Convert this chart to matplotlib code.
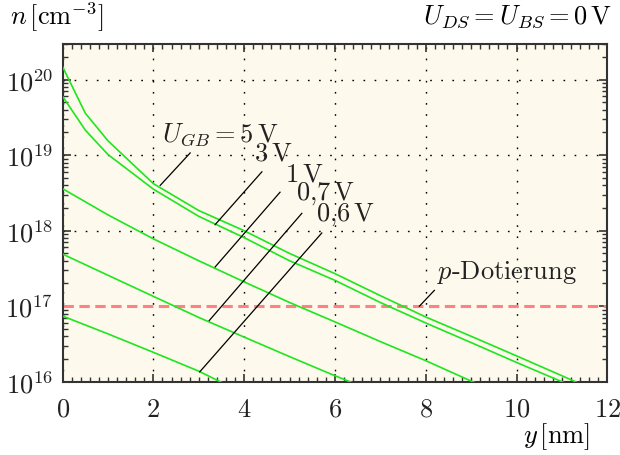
import numpy as np
import matplotlib.pyplot as plt
from matplotlib.ticker import LogLocator, MultipleLocator, FuncFormatter, NullFormatter

plt.rcParams['mathtext.fontset'] = 'cm'
plt.rcParams['axes.formatter.use_mathtext'] = True

# Elektronendichte n(y) für verschiedene Gate-Spannungen
y_5V = [0, 0.5, 1, 2, 3, 4, 5, 6, 7, 8, 9, 10, 11, 11.6]
n_5V = [1.48e20, 3.6e19, 1.55e19, 4.2e18, 1.85e18, 1.0e18, 5.0e17, 2.7e17,
        1.38e17, 7.2e16, 4.0e16, 2.2e16, 1.2e16, 8.3e15]

y_3V = [0, 0.5, 1, 2, 3, 4, 5, 6, 7, 8, 9, 10, 11, 11.5]
n_3V = [6.0e19, 2.15e19, 1.02e19, 3.55e18, 1.55e18, 8.1e17, 4.0e17, 2.2e17,
        1.12e17, 6.0e16, 3.3e16, 1.8e16, 1.0e16, 7.4e15]

y_1V = [0, 1, 2, 3, 4, 5, 6, 7, 8, 9, 9.5]
n_1V = [3.6e18, 1.62e18, 7.8e17, 4.0e17, 2.1e17, 1.12e17, 6.2e16, 3.4e16,
        1.9e16, 1.02e16, 7.6e15]

y_07V = [0, 1, 2, 3, 4, 5, 6, 6.5]
n_07V = [4.9e17, 2.57e17, 1.35e17, 7.1e16, 3.9e16, 2.15e16, 1.2e16, 9.1e15]

y_06V = [0, 1, 2, 3, 3.5, 3.8]
n_06V = [7.4e16, 4.3e16, 2.45e16, 1.38e16, 9.8e15, 8.1e15]

N_A = 1e17  # p-Dotierung

curves = [(y_5V, n_5V), (y_3V, n_3V), (y_1V, n_1V), (y_07V, n_07V), (y_06V, n_06V)]

# Beschriftungen: Text, Textposition, Hinweislinie (von, bis)
labels = [
    (r'$U_{GB} = 5\,\mathrm{V}$', (3.47, 10**19.29), (2.15, 10**18.60), (2.81, 10**19.03)),
    (r'$3\,\mathrm{V}$', (4.64, 10**19.03), (3.36, 10**18.08), (4.39, 10**18.78)),
    (r'$1\,\mathrm{V}$', (5.32, 10**18.76), (3.36, 10**17.52), (4.79, 10**18.51)),
    (r'$0{,}7\,\mathrm{V}$', (5.78, 10**18.50), (3.23, 10**16.81), (5.27, 10**18.23)),
    (r'$0{,}6\,\mathrm{V}$', (6.22, 10**18.23), (3.02, 10**16.13), (5.71, 10**17.97)),
]

fig = plt.figure(figsize=(6.2, 4.56), dpi=100)
ax = fig.add_axes([0.101, 0.1607, 0.8785, 0.7413])
ax.set_facecolor('#fdf9ec')

for y, n in curves:
    ax.plot(y, n, color='#1ee61e', lw=1.2, zorder=3)

ax.axhline(N_A, color='#ff8282', lw=2.2, linestyle=(0, (3.4, 1.8)), zorder=2)

for txt, pos, p0, p1 in labels:
    ax.plot([p0[0], p1[0]], [p0[1], p1[1]], color='k', lw=0.9, zorder=4)
    ax.text(pos[0], pos[1], txt, fontsize=19, ha='center', va='center', color='#222222')

ax.plot([7.86, 8.19], [1e17, 10**17.21], color='k', lw=0.9, zorder=4)
ax.text(9.79, 10**17.46, r'$p$-Dotierung', fontsize=19, ha='center', va='center',
        family='cmr10', color='#222222')

ax.set_yscale('log')
ax.set_xlim(0, 12)
ax.set_ylim(1e16, 3e20)

ax.xaxis.set_major_locator(MultipleLocator(2))
ax.xaxis.set_minor_locator(MultipleLocator(0.2))
ax.xaxis.set_major_formatter(FuncFormatter(lambda v, p: '$%d$' % v))
ax.yaxis.set_major_locator(LogLocator(base=10, numticks=10))
ax.yaxis.set_minor_locator(LogLocator(base=10, subs=np.arange(2, 10), numticks=20))
ax.yaxis.set_minor_formatter(NullFormatter())
ax.yaxis.set_major_formatter(FuncFormatter(lambda v, p: '$10^{%d}$' % round(np.log10(v))))

ax.tick_params(which='both', direction='in', top=True, right=True, colors='#333333',
               labelcolor='#222222', labelsize=19)
ax.tick_params(which='major', length=6, width=1.2)
ax.tick_params(which='minor', length=3.5, width=1.0)
ax.tick_params(axis='x', pad=10)
ax.tick_params(axis='y', pad=7)

ax.grid(which='major', color='k', linestyle=(0, (1.2, 6.8)), linewidth=1.0)
# keine Gitterlinie unter der Dotierungslinie
for val, gl in zip(ax.get_yticks(), ax.get_ygridlines()):
    if np.isclose(val, N_A):
        gl.set_visible(False)

for s in ax.spines.values():
    s.set_linewidth(1.5)
    s.set_color('#333333')

fig.text(10 / 620, 1 - 17 / 456, r'$n\,[\mathrm{cm}^{-3}]$', fontsize=19, ha='left', va='center')
fig.text(612 / 620, 1 - 17 / 456, r'$U_{DS} = U_{BS} = 0\,\mathrm{V}$', fontsize=19,
         ha='right', va='center')
fig.text(590 / 620, 1 - 437 / 456, r'$y\,[\mathrm{nm}]$', fontsize=19, ha='right', va='center')

fig.savefig('out.png', dpi=100)
